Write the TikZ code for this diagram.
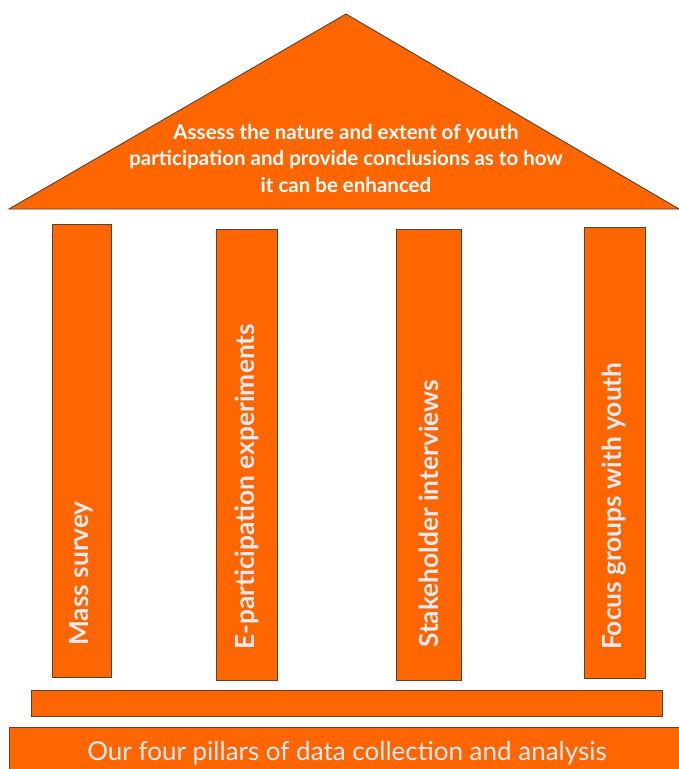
\documentclass[tikz,border=0pt]{standalone}
\usepackage{fontspec}
\setmainfont{Lato}
\definecolor{orng}{HTML}{FF6600}
\definecolor{edge}{HTML}{5A4030}
\definecolor{pale}{HTML}{E4EAF0}
\begin{document}
\begin{tikzpicture}[x=1pt,y=-1pt,
  part/.style={fill=orng,draw=edge,line width=0.9pt},
  piltext/.style={text=pale,font=\bfseries\fontsize{26.3}{28}\selectfont,rotate=90,anchor=west,inner sep=0pt}]
\useasboundingbox (0,0) rectangle (678,769);
\fill[white] (0,0) rectangle (678,769);
% roof
\draw[part] (346,14) -- (679,209) -- (9,209) -- cycle;
\node[text=white,font=\bfseries\fontsize{20.5}{26.5}\selectfont,align=center] (roof) at (346,158)
  {Assess the nature and extent of youth\\participation and provide conclusions as to how\\it can be enhanced};
% pillars
\draw[part] (52,224) rectangle (111,677);
\draw[part] (216,229) rectangle (277,680);
\draw[part] (396,229) rectangle (461,680);
\draw[part] (584,227) rectangle (645,678);
\node[piltext] (p1) at (81.5,646) {Mass survey};
\node[piltext] (p2) at (247,650) {E-participation experiments};
\node[piltext] (p3) at (428.5,648) {Stakeholder interviews};
\node[piltext] (p4) at (614.5,650) {Focus groups with youth};
% base
\draw[part] (31,690) rectangle (662,716);
\draw[part] (9,727) rectangle (680,772);
\node[text=pale,font=\fontsize{26}{28}\selectfont] (cap) at (347,753) {Our four pillars of data collection and analysis};
\end{tikzpicture}
\end{document}
